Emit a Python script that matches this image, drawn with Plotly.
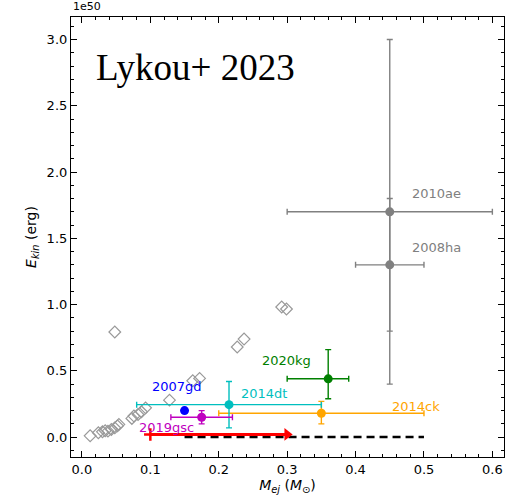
import plotly.graph_objects as go

# Literature sample (open diamonds), Mej in Msun, Ekin in 1e50 erg
lit_mej = [0.012, 0.024, 0.030, 0.034, 0.038, 0.043, 0.048, 0.052, 0.054,
           0.073, 0.076, 0.082, 0.087, 0.093, 0.128, 0.162, 0.172,
           0.048, 0.227, 0.237, 0.292, 0.299]
lit_ekin = [0.01, 0.033, 0.040, 0.048, 0.045, 0.058, 0.070, 0.085, 0.096,
            0.141, 0.159, 0.171, 0.191, 0.221, 0.279, 0.425, 0.443,
            0.793, 0.68, 0.74, 0.982, 0.967]

# Named objects with error bars
names = ["2010ae", "2008ha", "2020kg", "2014ck", "2014dt", "2007gd", "2019gsc"]
colors = ["#808080", "#808080", "#008000", "#FFA500", "#00BFBF", "#0000FF", "#BF00BF"]
mej = [0.45, 0.45, 0.36, 0.35, 0.215, 0.15, 0.175]
mej_lo = [0.15, 0.05, 0.06, 0.15, 0.135, 0.0, 0.045]
mej_hi = [0.15, 0.05, 0.03, 0.15, 0.135, 0.0, 0.045]
ekin = [1.70, 1.30, 0.44, 0.18, 0.245, 0.20, 0.15]
ekin_lo = [1.30, 0.50, 0.15, 0.08, 0.175, 0.0, 0.05]
ekin_hi = [1.30, 0.50, 0.22, 0.09, 0.175, 0.0, 0.05]
has_err = [True, True, True, True, True, False, True]
label_x = [0.48, 0.48, 0.26, 0.45, 0.23, 0.10, 0.08]
label_y = [1.84, 1.43, 0.58, 0.23, 0.33, 0.38, 0.075]

# Lower limit (arrow) and range (dashed)
limit_x = [0.10, 0.30]
limit_y = [0.02, 0.02]
range_x = [0.15, 0.50]
range_y = [0.0, 0.0]

fig = go.Figure()

fig.add_trace(go.Scatter(
    x=lit_mej, y=lit_ekin, mode="markers",
    marker=dict(symbol="diamond-open", size=9, color="#999999", line=dict(width=1.2)),
    showlegend=False))

fig.add_trace(go.Scatter(
    x=range_x, y=range_y, mode="lines",
    line=dict(color="black", width=2.5, dash="8px,5px"), showlegend=False))

fig.add_trace(go.Scatter(
    x=limit_x, y=limit_y, mode="lines",
    line=dict(color="red", width=3), showlegend=False))
fig.add_trace(go.Scatter(
    x=[limit_x[1]], y=[limit_y[1]], mode="markers",
    marker=dict(symbol="triangle-right", size=11, color="red"), showlegend=False))
fig.add_trace(go.Scatter(
    x=[limit_x[0]], y=[limit_y[0]], mode="markers",
    marker=dict(symbol="cross-thin", size=9, color="red", line=dict(width=2.5, color="red")),
    showlegend=False))

for i, n in enumerate(names):
    kw = {}
    if has_err[i]:
        kw["error_x"] = dict(type="data", symmetric=False, array=[mej_hi[i]],
                             arrayminus=[mej_lo[i]], color=colors[i], thickness=1.4, width=3)
        kw["error_y"] = dict(type="data", symmetric=False, array=[ekin_hi[i]],
                             arrayminus=[ekin_lo[i]], color=colors[i], thickness=1.4, width=3)
    fig.add_trace(go.Scatter(
        x=[mej[i]], y=[ekin[i]], mode="markers",
        marker=dict(symbol="circle", size=9, color=colors[i]),
        showlegend=False, **kw))
    fig.add_annotation(x=label_x[i], y=label_y[i], text=n, showarrow=False,
                       xanchor="left", yanchor="middle",
                       font=dict(family="DejaVu Sans", size=13, color=colors[i]))

fig.add_annotation(x=0.017, y=2.79, text="Lykou+ 2023", showarrow=False,
                   xanchor="left", yanchor="middle",
                   font=dict(family="Liberation Serif", size=37, color="black"))
fig.add_annotation(xref="paper", yref="paper", x=0, y=1.0, yshift=2,
                   text="1e50", showarrow=False, xanchor="left", yanchor="bottom",
                   font=dict(family="DejaVu Sans", size=11, color="black"))

axis_common = dict(showline=True, linecolor="black", linewidth=1.2, mirror="allticks",
                   ticks="inside", ticklen=6, tickwidth=1.2, tickcolor="black",
                   showgrid=False, zeroline=False,
                   tickfont=dict(family="DejaVu Sans", size=13, color="black"))

fig.update_xaxes(range=[-0.016, 0.617], tickvals=[0, 0.1, 0.2, 0.3, 0.4, 0.5, 0.6],
                 ticktext=["0.0", "0.1", "0.2", "0.3", "0.4", "0.5", "0.6"],
                 minor=dict(ticks="inside", dtick=0.02, tick0=0, ticklen=3, tickcolor="black"),
                 title=dict(text="<i>M</i><sub><i>ej</i></sub> (<i>M</i><sub>⊙</sub>)",
                            font=dict(family="DejaVu Sans", size=14, color="black"), standoff=4),
                 **axis_common)
fig.update_yaxes(range=[-0.15, 3.17], tickvals=[0, 0.5, 1.0, 1.5, 2.0, 2.5, 3.0],
                 ticktext=["0.0", "0.5", "1.0", "1.5", "2.0", "2.5", "3.0"],
                 minor=dict(ticks="inside", dtick=0.1, tick0=0, ticklen=3, tickcolor="black"),
                 title=dict(text="<i>E</i><sub><i>kin</i></sub> (erg)",
                            font=dict(family="DejaVu Sans", size=14, color="black"), standoff=6),
                 **axis_common)

fig.update_layout(width=507, height=496, margin=dict(l=71, r=3, t=17, b=39),
                  paper_bgcolor="white", plot_bgcolor="white")

fig.write_html("out.html")
